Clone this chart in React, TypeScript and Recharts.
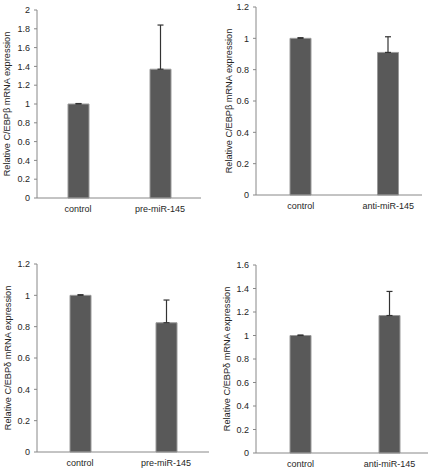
import { Bar, BarChart, ErrorBar, Label, XAxis, YAxis } from 'recharts';

// top-left: C/EBPβ, pre-miR
const catsA = ['control', 'pre-miR-145'];
const meanA = [1.0, 1.37];
const errA = [0.005, 0.47];
const ticksA = [0, 0.2, 0.4, 0.6, 0.8, 1, 1.2, 1.4, 1.6, 1.8, 2];

// top-right: C/EBPβ, anti-miR
const catsB = ['control', 'anti-miR-145'];
const meanB = [1.0, 0.91];
const errB = [0.004, 0.1];
const ticksB = [0, 0.2, 0.4, 0.6, 0.8, 1, 1.2];

// bottom-left: C/EBPδ, pre-miR
const catsC = ['control', 'pre-miR-145'];
const meanC = [1.0, 0.825];
const errC = [0.004, 0.145];
const ticksC = [0, 0.2, 0.4, 0.6, 0.8, 1, 1.2];

// bottom-right: C/EBPδ, anti-miR
const catsD = ['control', 'anti-miR-145'];
const meanD = [1.0, 1.17];
const errD = [0.004, 0.205];
const ticksD = [0, 0.2, 0.4, 0.6, 0.8, 1, 1.2, 1.4, 1.6];

const FONT = '"Liberation Sans", Arial, sans-serif';
const AXIS = '#888888';
const TEXT = '#262626';

const fmt = (v: number) => String(Math.round(v * 10) / 10);

interface PanelProps {
  left: number;
  top: number;
  height: number;
  cats: string[];
  means: number[];
  errs: number[];
  ticks: number[];
  label: string;
  margin: { top: number; right: number; bottom: number };
  padding: { left: number; right: number };
  labelOffset: number;
}

const Panel = ({ left, top, height, cats, means, errs, ticks, label, margin, padding, labelOffset }: PanelProps) => {
  const data = cats.map((c, i) => ({ name: c, value: means[i], err: [0, errs[i]] }));
  return (
    <div style={{ position: 'absolute', left, top }}>
      <BarChart
        width={219}
        height={height}
        data={data}
        margin={{ top: margin.top, right: margin.right, bottom: margin.bottom, left: 0 }}
        barSize={21}
      >
        <XAxis
          dataKey="name"
          height={20}
          tickLine={false}
          axisLine={{ stroke: AXIS }}
          padding={padding}
          tick={{ fontSize: 9, fill: TEXT, fontFamily: FONT }}
          interval={0}
        />
        <YAxis
          width={37}
          domain={[0, ticks[ticks.length - 1]]}
          ticks={ticks}
          tickFormatter={fmt}
          tickSize={3}
          tickMargin={4}
          axisLine={{ stroke: AXIS }}
          tickLine={{ stroke: AXIS }}
          tick={{ fontSize: 9, fill: TEXT, fontFamily: FONT }}
        >
          <Label
            value={label}
            angle={-90}
            position="insideLeft"
            offset={labelOffset}
            style={{ textAnchor: 'middle', fontSize: 9.2, fill: TEXT, fontFamily: FONT }}
          />
        </YAxis>
        <Bar dataKey="value" fill="#595959" stroke="#9a9a9a" strokeWidth={1} isAnimationActive={false}>
          <ErrorBar dataKey="err" direction="y" width={3} stroke="#333333" strokeWidth={1.2} isAnimationActive={false} />
        </Bar>
      </BarChart>
    </div>
  );
};

export default function App() {
  return (
    <div style={{ position: 'absolute', left: 0, top: 0, width: 438, height: 473, background: '#fff' }}>
      <Panel
        left={0}
        top={0}
        height={236}
        cats={catsA}
        means={meanA}
        errs={errA}
        ticks={ticksA}
        label="Relative C/EBPβ mRNA expression"
        margin={{ top: 10, right: 18, bottom: 18 }}
        padding={{ left: 0, right: 0 }}
        labelOffset={7}
      />
      <Panel
        left={219}
        top={0}
        height={236}
        cats={catsB}
        means={meanB}
        errs={errB}
        ticks={ticksB}
        label="Relative C/EBPβ mRNA expression"
        margin={{ top: 7, right: 16, bottom: 21 }}
        padding={{ left: 1, right: -10 }}
        labelOffset={10}
      />
      <Panel
        left={0}
        top={236}
        height={237}
        cats={catsC}
        means={meanC}
        errs={errC}
        ticks={ticksC}
        label="Relative C/EBPδ mRNA expression"
        margin={{ top: 28, right: 10, bottom: 1 }}
        padding={{ left: 0, right: 0 }}
        labelOffset={8}
      />
      <Panel
        left={219}
        top={236}
        height={237}
        cats={catsD}
        means={meanD}
        errs={errD}
        ticks={ticksD}
        label="Relative C/EBPδ mRNA expression"
        margin={{ top: 29, right: 10, bottom: 0 }}
        padding={{ left: 0, right: -6 }}
        labelOffset={8}
      />
    </div>
  );
}
